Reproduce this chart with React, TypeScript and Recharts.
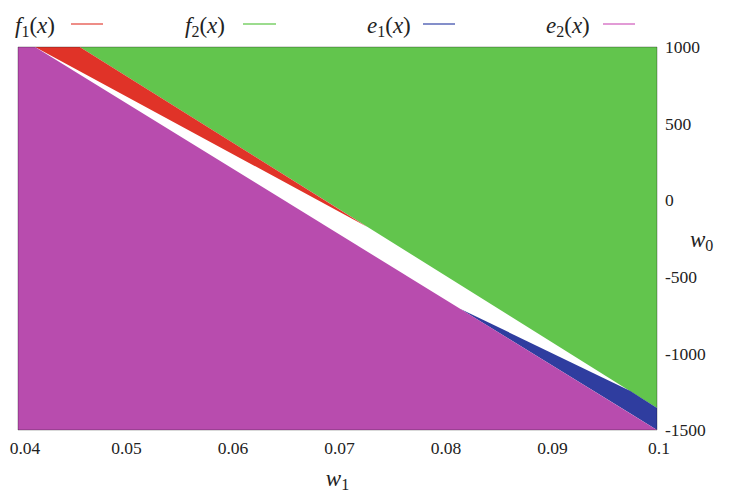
import React from "react";
import { ComposedChart, Area, XAxis, YAxis, Legend, ReferenceArea } from "recharts";

// ---- data ----
const xTicks = [0.04, 0.05, 0.06, 0.07, 0.08, 0.09, 0.1];
const yTicks = [-1500, -1000, -500, 0, 500, 1000];

const greenW1 = [0.04, 0.0458, 0.1];
const greenLow = [1000, 1000, -1356];
const greenHigh = [1000, 1000, 1000];

const redW1 = [0.0416, 0.0458, 0.0728];
const redLow = [1000, 842, -175];
const redHigh = [1000, 1000, -175];

const blueW1 = [0.0815, 0.0975, 0.1];
const blueLow = [-708, -1393, -1500];
const blueHigh = [-708, -1246, -1356];

const magentaW1 = [0.04, 0.0416, 0.1];
const magentaLow = [-1500, -1500, -1500];
const magentaHigh = [1000, 1000, -1500];

const legendLetters = ["f", "f", "e", "e"];
const legendSubs = ["1", "2", "1", "2"];

// ---- style ----
const FONT = "Liberation Serif, serif";
const TICK_SIZE = 17.5;
const fillColors = { green: "#62c54d", red: "#e03328", blue: "#2f3d9f", magenta: "#b84cae" };
const legendColors = ["#e8675f", "#7bd068", "#5b6ab8", "#d97ac9"];
const legendTextX = [7, 177, 359, 538];
const legendLineX = [[63, 95], [235, 268], [415, 447], [595, 627]];

const toRows = (w1: number[], lo: number[], hi: number[]) =>
  w1.map((w, i) => ({ w1: w, range: [lo[i], hi[i]] }));

const greenData = toRows(greenW1, greenLow, greenHigh);
const redData = toRows(redW1, redLow, redHigh);
const blueData = toRows(blueW1, blueLow, blueHigh);
const magentaData = toRows(magentaW1, magentaLow, magentaHigh);

const LegendContent = () => (
  <svg width={736} height={39} style={{ display: "block" }}>
    {legendLetters.map((l, i) => (
      <g key={i}>
        <text x={legendTextX[i]} y={25} fontFamily={FONT} fontSize={23} fill="#222">
          <tspan fontStyle="italic">{l}</tspan>
          <tspan fontSize={16} dy={4}>{legendSubs[i]}</tspan>
          <tspan dy={-4}>(</tspan>
          <tspan fontStyle="italic">x</tspan>
          <tspan>)</tspan>
        </text>
        <line x1={legendLineX[i][0]} x2={legendLineX[i][1]} y1={16} y2={16} stroke={legendColors[i]} strokeWidth={1.5} />
      </g>
    ))}
  </svg>
);

const XTick = (props: any) => {
  const { x, y, payload, index } = props;
  return (
    <text x={x} y={y} dx={index === 0 ? 7 : 2} dy="0.71em" textAnchor="middle" fontFamily={FONT} fontSize={TICK_SIZE} fill="#222">
      {String(payload.value)}
    </text>
  );
};

const XLabel = (props: any) => {
  const vb = props.viewBox || {};
  return (
    <text x={vb.x + vb.width / 2} y={vb.y + 56} textAnchor="middle" fontFamily={FONT} fontSize={23} fill="#222">
      <tspan fontStyle="italic">w</tspan>
      <tspan fontSize={16} dy={4}>1</tspan>
    </text>
  );
};

const YLabel = (props: any) => {
  const vb = props.viewBox || {};
  return (
    <text x={vb.x + 33} y={vb.y + vb.height / 2 + 8} fontFamily={FONT} fontSize={23} fill="#222">
      <tspan fontStyle="italic">w</tspan>
      <tspan fontSize={16} dy={4}>0</tspan>
    </text>
  );
};

export default function App() {
  return (
    <ComposedChart width={736} height={486} margin={{ top: 0, right: 0, left: 10, bottom: 0 }}>
      <Legend verticalAlign="top" align="left" wrapperStyle={{ left: 0, top: 0, width: 736 }} content={<LegendContent />} />
      <XAxis
        type="number"
        dataKey="w1"
        domain={[0.04, 0.1]}
        ticks={xTicks}
        interval={0}
        allowDataOverflow
        axisLine={false}
        tickLine={false}
        tickSize={6}
        tickMargin={6}
        height={64}
        tick={<XTick />}
        label={<XLabel />}
      />
      <YAxis
        type="number"
        orientation="right"
        domain={[-1500, 1000]}
        ticks={yTicks}
        interval={0}
        allowDataOverflow
        axisLine={false}
        tickLine={false}
        tickSize={6}
        tickMargin={2}
        width={87}
        tick={{ fontFamily: FONT, fontSize: TICK_SIZE, fill: "#222", textAnchor: "start" }}
        label={<YLabel />}
      />
      <Area data={greenData} dataKey="range" type="linear" fill={fillColors.green} fillOpacity={1} stroke="none" dot={false} activeDot={false} isAnimationActive={false} />
      <Area data={redData} dataKey="range" type="linear" fill={fillColors.red} fillOpacity={1} stroke="none" dot={false} activeDot={false} isAnimationActive={false} />
      <Area data={blueData} dataKey="range" type="linear" fill={fillColors.blue} fillOpacity={1} stroke="none" dot={false} activeDot={false} isAnimationActive={false} />
      <Area data={magentaData} dataKey="range" type="linear" fill={fillColors.magenta} fillOpacity={1} stroke="none" dot={false} activeDot={false} isAnimationActive={false} />
      <ReferenceArea x1={0.04} x2={0.1} y1={-1500} y2={1000} fill="none" stroke="#000" strokeOpacity={0.3} strokeWidth={1} ifOverflow="visible" />
    </ComposedChart>
  );
}
